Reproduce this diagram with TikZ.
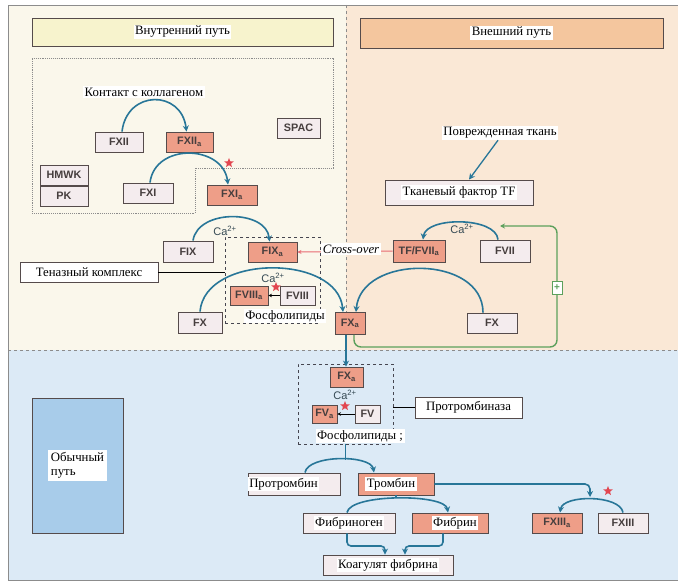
\documentclass[tikz,border=0pt]{standalone}
\usepackage{fontspec}
\setmainfont{Liberation Serif}
\newfontfamily\fsans{Liberation Sans}
\usetikzlibrary{arrows.meta,shapes.geometric}
\definecolor{creamc}{RGB}{250,247,235}
\definecolor{peachc}{RGB}{250,232,214}
\definecolor{bluec}{RGB}{220,234,246}
\definecolor{hdry}{RGB}{247,243,205}
\definecolor{hdrp}{RGB}{244,198,158}
\definecolor{bboxc}{RGB}{168,204,234}
\definecolor{salm}{RGB}{238,158,136}
\definecolor{lightf}{RGB}{244,236,238}
\definecolor{bordc}{RGB}{85,75,75}
\definecolor{txtc}{RGB}{70,62,62}
\definecolor{arrc}{RGB}{40,118,152}
\definecolor{grnc}{RGB}{92,160,92}
\definecolor{starc}{RGB}{226,70,80}
\definecolor{calc}{RGB}{55,75,85}
\definecolor{framec}{RGB}{140,140,140}
\definecolor{dashc}{RGB}{70,70,80}
\begin{document}
\begin{tikzpicture}[x=1pt,y=-1pt,
  fb/.style={draw=bordc, line width=0.9pt, fill=lightf, text=txtc,
    font=\fsans\bfseries\fontsize{10.8}{11}\selectfont, inner sep=0pt,
    minimum height=20pt, minimum width=50pt},
  ab/.style={fb, fill=salm},
  lbl/.style={fill=white, text=black, font=\fontsize{12.8}{14}\selectfont, inner sep=1.5pt},
  rb/.style={draw=bordc, line width=0.9pt, inner sep=0pt},
  arr/.style={draw=arrc, line width=1.6pt, -{Stealth[length=6pt,width=6pt]}},
  plainl/.style={draw=arrc, line width=1.6pt},
  cal/.style={font=\fsans\fontsize{11}{12}\selectfont, text=calc, inner sep=0pt},
  starn/.style={star, star points=5, star point ratio=2.3, fill=starc, minimum size=10pt, inner sep=0pt},
  tiny/.style={draw=black, line width=0.8pt, -{Stealth[length=3.5pt,width=3.5pt]}}
]
\useasboundingbox (0,0) rectangle (678,583);
% backgrounds
\fill[white] (0,0) rectangle (678,583);
\fill[creamc] (8,5) rectangle (346,350);
\fill[peachc] (346,5) rectangle (678,350);
\fill[bluec] (8,350) rectangle (678,580);
\draw[framec, line width=0.8pt] (678,5) -- (8,5) -- (8,580) -- (678,580);
\draw[framec, dashed, line width=0.7pt] (346,5) -- (346,350);
\draw[framec, dashed, line width=0.9pt] (8,350) -- (678,350);
% headers
\node[rb, fill=hdry, minimum width=301pt, minimum height=28pt,
  label={[lbl]center:Внутренний путь}] (hin) at (182.5,32) {};
\node[rb, fill=hdrp, minimum width=303pt, minimum height=30pt,
  label={[lbl]center:Внешний путь}] (hex) at (511.5,33) {};
% inner dotted region
\draw[framec, densely dotted, line width=0.9pt] (32,58) -- (333,58) -- (333,168) -- (195,168) -- (195,213) -- (32,213) -- cycle;
% intrinsic
\node[lbl, anchor=west] (kont) at (83,92) {Контакт с коллагеном\hspace{22pt}};
\node[fb, minimum width=48pt] (fxii) at (119,142) {FXII};
\node[ab, minimum width=47pt] (fxiia) at (189.5,142) {FXII\textsubscript{a}};
\node[fb, minimum width=43pt] (spac) at (298.5,128) {SPAC};
\node[fb, minimum width=48pt] (hmwk) at (64,175) {HMWK};
\node[fb, minimum width=48pt] (pk) at (64,196) {PK};
\node[fb] (fxi) at (148,193) {FXI};
\node[ab] (fxia) at (232,195) {FXI\textsubscript{a}};
\draw[arr] ([xshift=3pt]fxii.north) .. controls +(5,-42) and +(-5,-42) .. ([xshift=-3pt]fxiia.north);
\draw[arr] ([xshift=2pt]fxi.north) .. controls +(5,-40) and +(-5,-40) .. ([xshift=-4pt]fxia.north);
\node[starn] (s1) at (229,163) {};
\node[fb, minimum height=21pt] (fix) at (188,251.5) {FIX};
\node[ab, minimum width=49pt] (fixa) at (272.5,252) {FIX\textsubscript{a}};
\draw[arr] ([xshift=5pt]fix.north) .. controls +(5,-32) and +(-3,-32) .. ([xshift=-3pt]fixa.north);
\node[cal] (ca1) at (225,231) {Ca\textsuperscript{2+}};
% tenase
\node[draw=dashc, dashed, line width=0.9pt, minimum width=95pt, minimum height=86pt, inner sep=0pt] (tenase) at (272.5,280) {};
\node[rb, fill=white, minimum width=138pt, minimum height=20pt,
  label={[lbl]center:Теназный комплекс}] (tenlbl) at (89,272) {};
\draw[black, line width=1pt] (tenlbl.east) -- (tenlbl.east -| tenase.west);
\node[fb, minimum width=44pt, minimum height=21pt] (fxl) at (200,322.5) {FX};
\node[ab, minimum width=30pt, minimum height=22pt] (fxa) at (350,323.5) {FX\textsubscript{a}};
\draw[arr] (fxl.north) .. controls +(5,-58) and +(-5,-58) .. ([xshift=-7pt]fxa.north);
\node[cal] (ca2) at (273,278) {Ca\textsuperscript{2+}};
\node[ab, minimum width=38pt, minimum height=19pt] (fviiia) at (249,295.5) {FVIII\textsubscript{a}};
\node[fb, minimum width=35pt, minimum height=19pt] (fviii) at (297.5,295.5) {FVIII};
\draw[tiny] (fviii.west) -- (fviiia.east);
\node[starn] (s2) at (276,287) {};
\node[lbl] (phos1) at (285,316) {Фосфолипиды};
% extrinsic
\node[lbl] (pov) at (500,133) {Поврежденная ткань};
\node[rb, fill=lightf, minimum width=148pt, minimum height=25pt,
  label={[lbl]center:Тканевый фактор TF}] (tf) at (459,192.5) {};
\draw[arr, line width=1.3pt] ([xshift=-2pt]pov.south) -- ([xshift=10pt]tf.north);
\node[ab, minimum width=52pt, minimum height=22pt] (tfvii) at (419,251) {TF/FVII\textsubscript{a}};
\node[fb, minimum height=22pt] (fvii) at (505,251) {FVII};
\draw[arr] ([xshift=-7pt]fvii.north) .. controls +(-2,-23) and +(3,-23) .. ([xshift=4pt]tfvii.north);
\node[cal] (ca3) at (462,229) {Ca\textsuperscript{2+}};
\node[fb] (fxr) at (492,323) {FX};
\draw[arr] ([xshift=-9pt]fxr.north) .. controls +(0,-58) and +(5,-58) .. ([xshift=6pt]fxa.north);
% cross-over
\draw[draw=starc!80, line width=1pt, -{Stealth[length=4pt,width=4pt]}] (tfvii.west) -- (fixa.east);
\node[lbl, font=\itshape\fontsize{12.8}{14}\selectfont] (cross) at (351,249) {Cross-over};
% green feedback
\coordinate (gend) at (500,226);
\draw[grnc, line width=1.4pt, rounded corners=7pt, -{Stealth[length=5pt,width=5pt]}] ([xshift=4pt]fxa.south) |- (557,347) |- (gend);
\node[draw=grnc, fill=white, line width=0.8pt, minimum width=10pt, minimum height=13pt, inner sep=0pt,
  font=\fsans\bfseries\fontsize{10}{10}\selectfont, text=grnc] (plus) at (557,288) {+};
% prothrombinase
\node[draw=dashc, dashed, line width=0.9pt, minimum width=95pt, minimum height=80pt, inner sep=0pt] (ptbox) at (345.5,404) {};
\node[ab, minimum width=33pt] (pxa) at (346.5,377) {FX\textsubscript{a}};
\draw[arr] ([xshift=-4pt]fxa.south) -- ([xshift=-4pt]fxa.south |- pxa.north);
\node[cal] (ca4) at (345,395) {Ca\textsuperscript{2+}};
\node[ab, minimum width=25pt, minimum height=18pt] (fva) at (324.5,414) {FV\textsubscript{a}};
\node[fb, minimum width=25pt, minimum height=18pt] (fv) at (367.5,414) {FV};
\draw[tiny] (fv.west) -- (fva.east);
\node[starn] (s3) at (345,406) {};
\node[lbl] (phos2) at (360,436) {Фосфолипиды ;};
\node[rb, fill=white, minimum width=107pt, minimum height=21pt,
  label={[lbl]center:Протромбиназа}] (ptlbl) at (468.5,407.5) {};
\draw[black, line width=1pt] (ptlbl.west) -- (ptlbl.west -| ptbox.east);
% common path
\node[rb, fill=bboxc, minimum width=91pt, minimum height=135pt,
  label={[lbl, align=left, inner sep=3pt]center:{Обычный\\путь}}] (common) at (77.5,465.5) {};
\node[rb, fill=lightf, minimum width=92pt, minimum height=22pt,
  label={[lbl, anchor=west]west:Протромбин}] (prot) at (294,484) {};
\node[rb, fill=salm, minimum width=76pt, minimum height=22pt,
  label={[lbl, xshift=-5pt]center:Тромбин}] (trom) at (396,484) {};
\coordinate (prpeak) at (345.5,460);
\draw[plainl] (phos2.south -| ptbox.south) -- (prpeak);
\draw[arr] ([xshift=11pt]prot.north) .. controls +(3,-18) and +(-3,-18) .. ([xshift=-22pt]trom.north);
\node[ab] (fxiiia) at (557,523) {FXIII\textsubscript{a}};
\node[fb] (fxiii) at (623,523) {FXIII};
\coordinate (xiiiarr) at (590,497);
\draw[arr, rounded corners=5pt] (trom.east) -| (xiiiarr);
\draw[arr] (fxiii.north) .. controls +(-3,-18) and +(3,-18) .. ([xshift=3pt]fxiiia.north);
\node[starn] (s4) at (608,491) {};
\node[rb, fill=lightf, minimum width=92pt, minimum height=20pt,
  label={[lbl]center:Фибриноген}] (fbg) at (349,523) {};
\node[rb, fill=salm, minimum width=76pt, minimum height=20pt,
  label={[lbl, xshift=5pt]center:Фибрин}] (fbn) at (450,523) {};
\draw[plainl] (trom.south) -- ++(0,3);
\draw[arr] ([xshift=-2pt]fbg.north) .. controls +(3,-19) and +(-3,-19) .. ([xshift=-2pt]fbn.north);
\node[rb, fill=lightf, minimum width=130pt, minimum height=20pt,
  label={[lbl]center:Коагулят фибрина}] (koag) at (388,565) {};
\coordinate (kl) at (385,546);
\coordinate (kr) at (405,546);
\draw[arr, rounded corners=4pt] ([xshift=-2pt]fbg.south) |- (kl) -- (kl |- koag.north);
\draw[arr, rounded corners=4pt] ([xshift=-7pt]fbn.south) |- (kr) -- (kr |- koag.north);
\end{tikzpicture}
\end{document}
